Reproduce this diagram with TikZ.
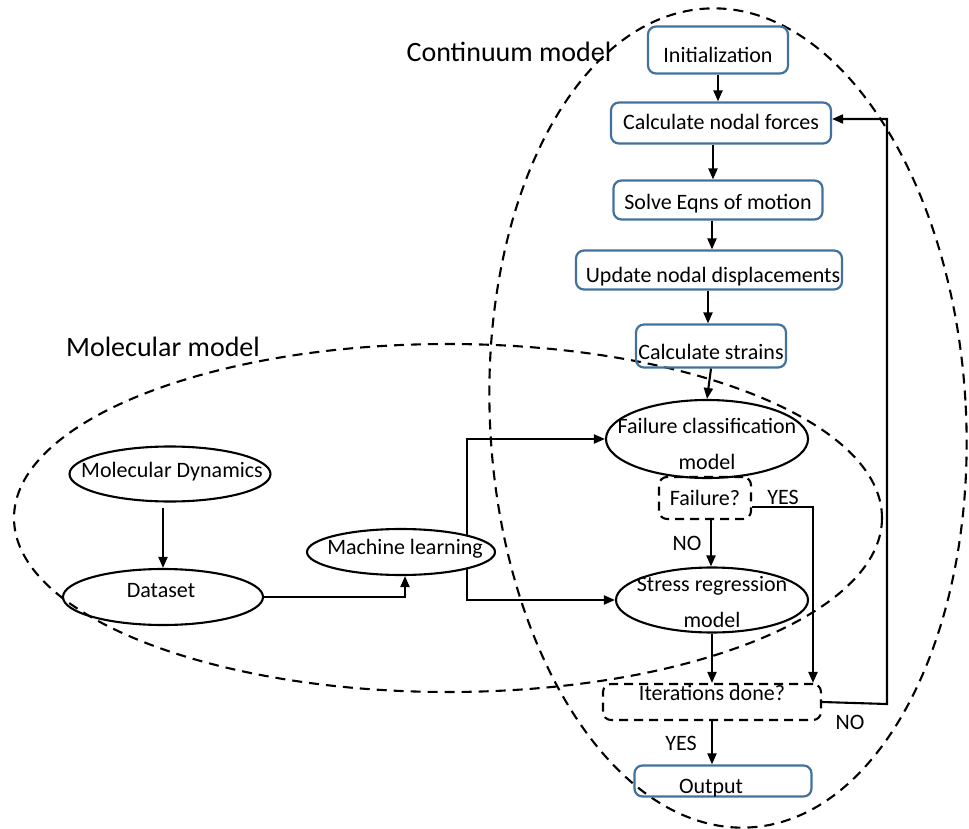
\documentclass[tikz,border=0pt]{standalone}
\usepackage{fontspec}
\setmainfont{Carlito}
\usetikzlibrary{arrows.meta,shapes.geometric}
\pgfdeclarelayer{background}
\pgfsetlayers{background,main}
\definecolor{boxblue}{RGB}{65,113,156}
% text shifted vertically inside a box without changing the box size
\newcommand{\lifted}[2]{\raisebox{#1}[0pt][0pt]{#2}}
\begin{document}
\begin{tikzpicture}[x=1pt,y=-1pt,
  every node/.style={font=\fontsize{22}{36}\selectfont, inner sep=0pt},
  stepbox/.style={draw=boxblue, line width=2.2pt, rounded corners=8pt},
  oval/.style={draw, ellipse, line width=2.1pt},
  query/.style={draw, line width=2.1pt, dash pattern=on 9pt off 6pt, rounded corners=8pt},
  link/.style={line width=2.1pt, -{Triangle[length=11pt,width=9pt]}},
  region/.style={line width=2.1pt, dash pattern=on 10pt off 7pt},
  tag/.style={font=\fontsize{22}{26}\selectfont},
  title/.style={font=\fontsize{28}{32}\selectfont}]
\useasboundingbox (0,0) rectangle (969,829);

% dashed regions
\draw[region] (448,518) ellipse [x radius=434, y radius=174];
\draw[region, rotate around={3:(728,418)}] (728,418) ellipse [x radius=238, y radius=410];
\node[title] (conttitle) at (509,52) {Continuum model};
\node[title] (moltitle) at (163,347) {Molecular model};

% continuum loop
\node[stepbox, minimum width=140pt, minimum height=47pt] (init) at (718,50) {\lifted{-13pt}{Initialization}};
\node[stepbox, minimum width=220pt, minimum height=41pt] (cnf) at (721,123) {\lifted{-7pt}{Calculate nodal forces}};
\node[stepbox, minimum width=209pt, minimum height=39pt] (solve) at (718,200) {\lifted{-10pt}{Solve Eqns of motion}};
\node[stepbox, minimum width=266pt, minimum height=39pt] (update) at (709,270) {\hspace*{8pt}\lifted{-12pt}{Update nodal displacements}};
\node[stepbox, minimum width=150pt, minimum height=43pt] (strains) at (711,346) {\lifted{-13pt}{Calculate strains}};
\node[oval, minimum width=202pt, minimum height=78pt] (fcm) at (707,439) {};
\node (fcmtext) at (707,444) [align=center] {Failure classification\\model};
\node[query, minimum width=92pt, minimum height=42pt] (failq) at (705,498) {\lifted{-7pt}{Failure?}};
\node[oval, minimum width=192pt, minimum height=65pt] (srm) at (712,600) {};
\node (srmtext) at (712,602) [align=center] {Stress regression\\model};
\node[query, minimum width=218pt, minimum height=36pt] (iter) at (712,702) {\lifted{2pt}{Iterations done?}};
\node[stepbox, minimum width=177pt, minimum height=31pt] (out) at (723,781) {\hspace*{-24pt}\lifted{-12pt}{Output}};

% molecular side
\node[oval, minimum width=201pt, minimum height=55pt] (md) at (170,474) {};
\node (mdtext) at (172,472) {Molecular Dynamics};
\node[oval, minimum width=200pt, minimum height=56pt] (ds) at (163,597) {};
\node (dstext) at (161,591) {Dataset};
\node[oval, fill=white, minimum width=188pt, minimum height=46pt] (ml) at (401,552) {};
\node (mltext) at (405,549) {Machine learning};

% branch labels
\node[tag] (yesfail) at (783,497) {YES};
\node[tag] (nofail) at (687,543) {NO};
\node[tag] (yesiter) at (681,743) {YES};
\node[tag] (noiter) at (850,722) {NO};

% connectors
\draw[link] (init) -- (init |- cnf.north);
\draw[link] ([xshift=-8pt]cnf.south) -- ([xshift=-8pt]cnf.south |- solve.north);
\draw[link] ([xshift=-6pt]solve.south) -- ([xshift=-6pt]solve.south |- update.north);
\draw[link] ([xshift=-1pt]update.south) -- ([xshift=-1pt]update.south |- strains.north);
\draw[link] (strains.south) -- (fcm.north);
\draw[link] ([xshift=6pt]failq.south) -- ([xshift=6pt]failq.south |- srm.north);
\draw[link] (srm.south) -- (srm.south |- iter.north);
\draw[link] (iter.south) -- (iter.south |- out.north);

\coordinate (yesturn) at (813,507);
\draw[link] (failq.east |- yesturn) -- (yesturn) -- (yesturn |- iter.north);

\coordinate (nobot) at (887,704);
\coordinate (notop) at (887,119);
\draw[link] (iter.east) -- (nobot) -- (notop) -- (notop -| cnf.east);

\draw[link] ([yshift=-5pt]ds |- md.south) -- (ds.north);
\draw[link] (ds.east) -| ([xshift=4pt]ml.south);

\coordinate (tap) at (467,552);
\begin{pgfonlayer}{background}
\draw[link] (tap) |- (fcm.west);
\draw[link] (tap) |- (srm.west);
\end{pgfonlayer}
\end{tikzpicture}
\end{document}
